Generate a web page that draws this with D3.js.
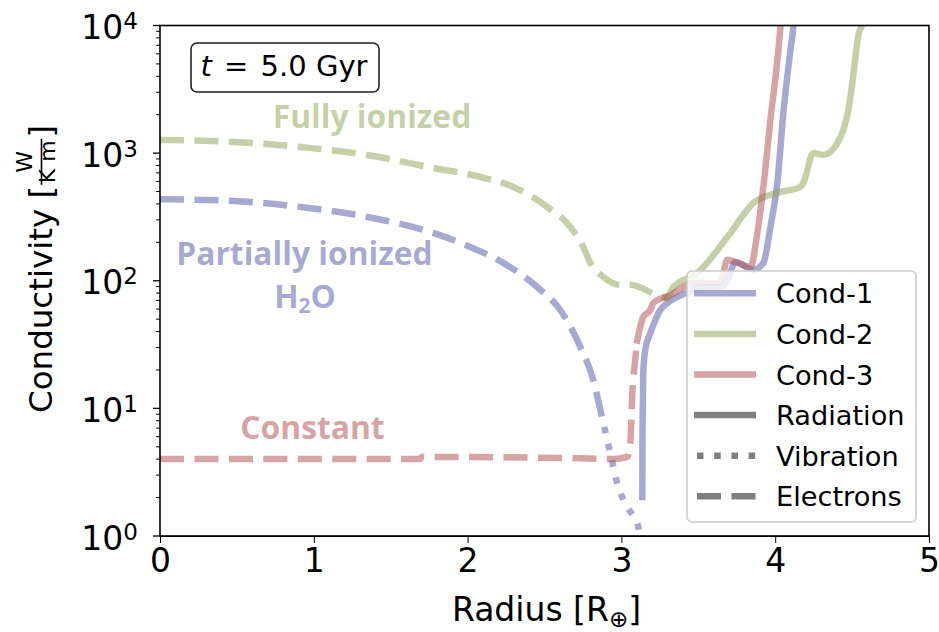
<!DOCTYPE html>
<html>
<head>
<meta charset="utf-8">
<script src="https://cdn.jsdelivr.net/npm/d3@7"></script>
<style>
  body { margin: 0; background: #fff; }
  svg { display: block; }
  text { font-family: "DejaVu Sans", sans-serif; }
</style>
</head>
<body>
<div id="chart"></div>
<script>
// radius [R_earth], conductivity [W/(K m)]
const cond1Electrons = [[0, 435], [0.475, 422], [0.911, 379], [1.347, 316], [1.776, 237], [2.017, 184],
  [2.232, 138], [2.453, 89], [2.602, 59], [2.733, 30.3], [2.817, 16.7], [2.863, 9.7]];
const cond1Vibration = [[2.863, 9.7], [2.928, 4.47], [2.98, 2.42], [3.038, 1.69], [3.11, 1.18], [3.13, 0.9]];
const cond1Radiation = [[3.136, 2.02], [3.137, 5.66], [3.14, 11.6], [3.142, 18.9], [3.155, 28.7], [3.188, 39],
  [3.221, 49.3], [3.253, 59], [3.299, 67], [3.364, 74.6], [3.448, 83.2], [3.513, 89], [3.643, 89],
  [3.689, 101], [3.741, 140], [3.858, 122], [3.923, 138], [3.969, 264], [4.014, 584], [4.053, 2065],
  [4.099, 6440], [4.118, 9750], [4.13, 16000]];

const cond2Electrons = [[0, 1270], [0.475, 1224], [0.911, 1117], [1.347, 968], [1.776, 766], [2.082, 651],
  [2.297, 543], [2.518, 379], [2.668, 264], [2.752, 184], [2.798, 138], [2.882, 107], [2.993, 93],
  [3.058, 93], [3.234, 77], [3.299, 73]];
const cond2Radiation = [[3.299, 73], [3.338, 89], [3.494, 115], [3.709, 237], [3.858, 407], [4.014, 488],
  [4.164, 543], [4.183, 584], [4.249, 1004], [4.314, 968], [4.405, 1202], [4.444, 1530], [4.476, 2190],
  [4.502, 3590], [4.522, 5700], [4.541, 8440], [4.567, 10500], [4.58, 14000]];

const cond3Electrons = [[0, 4.01], [1.69, 4.01], [1.70, 4.16], [2.668, 4.08], [2.947, 4.01], [3.038, 4.16],
  [3.058, 5.36], [3.071, 13.2], [3.09, 24], [3.103, 34]];
const cond3Radiation = [[3.103, 34], [3.142, 52], [3.188, 59], [3.208, 67], [3.318, 77], [3.468, 96],
  [3.643, 96], [3.689, 146], [3.754, 138], [3.839, 128], [3.884, 237], [3.923, 543], [3.969, 1820],
  [4.014, 5370], [4.034, 9750], [4.045, 15000]];

const xTicks = [0, 1, 2, 3, 4, 5];
const yTickExps = [0, 1, 2, 3, 4];

const blue = '#5254a3', green = '#8ca252', red = '#ad494a', gray = '#000000';
const LW = 6.5;
const DASH = [LW * 3.7, LW * 1.6].join(',');
const DOT = [LW, LW * 1.65].join(',');

const series = [
  { data: cond1Electrons, color: blue, dash: DASH },
  { data: cond1Vibration, color: blue, dash: DOT },
  { data: cond1Radiation, color: blue, dash: null },
  { data: cond2Electrons, color: green, dash: DASH },
  { data: cond2Radiation, color: green, dash: null },
  { data: cond3Electrons, color: red, dash: DASH },
  { data: cond3Radiation, color: red, dash: null },
];

const legendItems = [
  { label: 'Cond-1', color: blue, dash: null },
  { label: 'Cond-2', color: green, dash: null },
  { label: 'Cond-3', color: red, dash: null },
  { label: 'Radiation', color: gray, dash: null },
  { label: 'Vibration', color: gray, dash: DOT },
  { label: 'Electrons', color: gray, dash: DASH },
];

const W = 939, H = 632;
const L = 160, R = 929, T = 25.5, B = 536;

const svg = d3.select('#chart').append('svg').attr('width', W).attr('height', H);
const x = d3.scaleLinear().domain([0, 5]).range([L, R]);
const y = d3.scaleLog().domain([1, 1e4]).range([B, T]);

svg.append('defs').append('clipPath').attr('id', 'clip-plot')
  .append('rect').attr('x', L).attr('y', T).attr('width', R - L).attr('height', B - T);

const line = d3.line().x(d => x(d[0])).y(d => y(d[1])).curve(d3.curveMonotoneX);
const g = svg.append('g').attr('clip-path', 'url(#clip-plot)');
series.forEach(s => {
  g.append('path').attr('d', line(s.data))
    .attr('fill', 'none').attr('stroke', s.color).attr('stroke-opacity', 0.5)
    .attr('stroke-width', LW).attr('stroke-linejoin', 'round')
    .attr('stroke-linecap', s.dash ? 'butt' : 'square')
    .attr('stroke-dasharray', s.dash);
});

// annotations
const annFont = '"Open Sans", "Noto Sans", sans-serif';
function annotate(txt, color, cx, cy) {
  return svg.append('text').attr('x', cx).attr('y', cy).attr('text-anchor', 'middle')
    .style('font-family', annFont).attr('font-weight', 700).attr('font-size', 31.8)
    .attr('fill', color).attr('fill-opacity', 0.5).text(txt);
}
annotate('Fully ionized', green, 372, 128);
annotate('Partially ionized', blue, 304.5, 265);
const h2o = annotate('', blue, 305, 308);
h2o.append('tspan').text('H');
h2o.append('tspan').attr('font-size', 21).attr('dy', 5).text('2');
h2o.append('tspan').attr('dy', -5).text('O');
annotate('Constant', red, 312.5, 439);

// axes
const xAxis = svg.append('g').attr('transform', `translate(0,${B})`)
  .call(d3.axisBottom(x).tickValues(xTicks).tickFormat(d3.format('d')).tickSize(7).tickPadding(6));
xAxis.selectAll('text').attr('font-size', 33).style('font-family', '"DejaVu Sans"');

const yAxis = svg.append('g').attr('transform', `translate(${L},0)`);
const minor = [];
for (let e = 0; e < 4; e++) for (let m = 2; m <= 9; m++) minor.push(m * Math.pow(10, e));
yAxis.selectAll('line.minor').data(minor).join('line').attr('class', 'minor')
  .attr('x1', 0).attr('x2', -4).attr('y1', d => y(d)).attr('y2', d => y(d))
  .attr('stroke', '#000').attr('stroke-width', 1);
yAxis.selectAll('line.major').data(yTickExps).join('line').attr('class', 'major')
  .attr('x1', 0).attr('x2', -7).attr('y1', d => y(Math.pow(10, d))).attr('y2', d => y(Math.pow(10, d)))
  .attr('stroke', '#000').attr('stroke-width', 1.3);
yTickExps.forEach(e => {
  const t = yAxis.append('text').attr('x', -22).attr('y', y(Math.pow(10, e)) + 13.5)
    .attr('text-anchor', 'end').attr('font-size', 33).attr('fill', '#000');
  t.append('tspan').text('10');
  t.append('tspan').attr('font-size', 23).attr('dy', -10).text(e);
});

svg.append('rect').attr('x', L).attr('y', T).attr('width', R - L).attr('height', B - T)
  .attr('fill', 'none').attr('stroke', '#000').attr('stroke-width', 1.6);

// axis labels
const xl = svg.append('text').attr('x', (L + R) / 2 + 2).attr('y', 621).attr('text-anchor', 'middle')
  .attr('font-size', 33).attr('fill', '#000');
xl.append('tspan').text('Radius [R');
xl.append('tspan').attr('font-size', 23).attr('dy', 6).text('⊕');
xl.append('tspan').attr('dy', -6).text(']');

const yl = svg.append('g').attr('transform', `translate(52,${(T + B) / 2}) rotate(-90)`);
yl.append('text').attr('x', 95).attr('y', 0).attr('text-anchor', 'end')
  .attr('font-size', 32.5).text('Conductivity [');
yl.append('text').attr('x', 119).attr('y', -20.3).attr('text-anchor', 'middle')
  .attr('font-size', 22).text('W');
yl.append('line').attr('x1', 96).attr('x2', 142).attr('y1', -10.5).attr('y2', -10.5)
  .attr('stroke', '#000').attr('stroke-width', 1.6);
yl.append('text').attr('x', 119).attr('y', 3).attr('text-anchor', 'middle')
  .attr('font-size', 22).text('K m');
yl.append('text').attr('x', 143).attr('y', 0).attr('text-anchor', 'start')
  .attr('font-size', 32.5).text(']');

// time box
svg.append('rect').attr('x', 191).attr('y', 43).attr('width', 188).attr('height', 49)
  .attr('rx', 6).attr('fill', '#fff').attr('stroke', '#222').attr('stroke-width', 1.6);
const tt = svg.append('text').attr('x', 284).attr('y', 76).attr('text-anchor', 'middle')
  .attr('font-size', 29).attr('fill', '#000');
tt.append('tspan').attr('font-style', 'italic').text('t');
tt.append('tspan').attr('dx', 3).text(' = ');
tt.append('tspan').attr('dx', 3).text('5.0 Gyr');

// legend
const lg = svg.append('g');
lg.append('rect').attr('x', 687).attr('y', 271).attr('width', 229).attr('height', 251).attr('rx', 5)
  .attr('fill', '#fff').attr('fill-opacity', 0.8).attr('stroke', '#ccc').attr('stroke-width', 1.6);
legendItems.forEach((d, i) => {
  const cy = 293.3 + i * 40.6;
  lg.append('line').attr('x1', 694).attr('x2', 756).attr('y1', cy).attr('y2', cy)
    .attr('stroke', d.color).attr('stroke-opacity', 0.5).attr('stroke-width', LW)
    .attr('stroke-dasharray', d.dash).attr('stroke-dashoffset', d.dash ? -3 : null);
  lg.append('text').attr('x', 776).attr('y', cy + 10).attr('font-size', 27.2).attr('fill', '#000').text(d.label);
});
</script>
</body>
</html>
